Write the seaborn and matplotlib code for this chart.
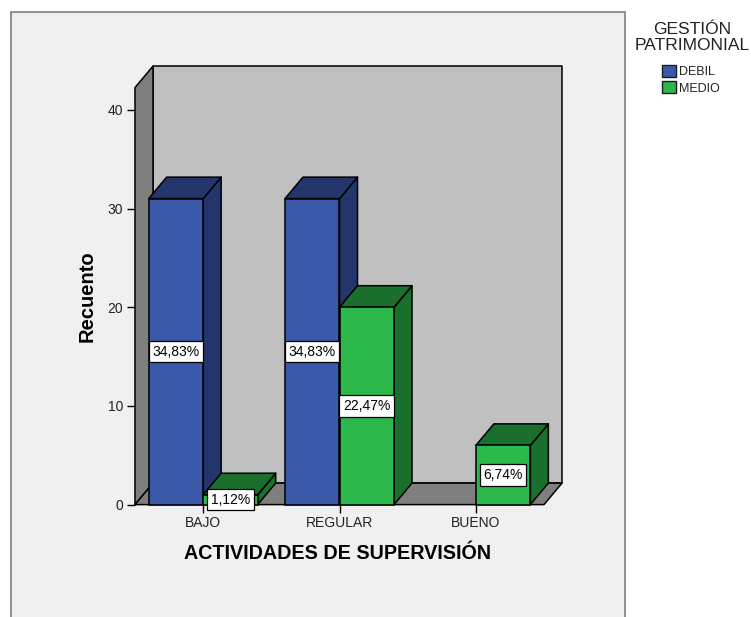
import matplotlib
matplotlib.use("Agg")
import matplotlib.pyplot as plt
from matplotlib.patches import Polygon, Rectangle, Patch
import pandas as pd
import seaborn as sns

categories = ["BAJO", "BAJO", "REGULAR", "REGULAR", "BUENO"]
series = ["DEBIL", "MEDIO", "DEBIL", "MEDIO", "MEDIO"]
counts = [31, 1, 31, 20, 6]
percent_labels = ["34,83%", "1,12%", "34,83%", "22,47%", "6,74%"]
category_order = ["BAJO", "REGULAR", "BUENO"]
series_order = ["DEBIL", "MEDIO"]
front_colors = {"DEBIL": "#3C58A8", "MEDIO": "#2DB84B"}
shade_colors = {"DEBIL": "#24356B", "MEDIO": "#1B6F2D"}

W, H = 751, 617
sns.set_style("white")
plt.rcParams["font.family"] = ["Liberation Sans", "DejaVu Sans"]

df = pd.DataFrame({"cat": categories, "ser": series, "n": counts, "lab": percent_labels})

fig = plt.figure(figsize=(W / 100, H / 100), dpi=100, facecolor="white")
fig.add_artist(Rectangle((10.5 / W, -0.02), 614.5 / W, 1.02 - 11.5 / H, transform=fig.transFigure,
                         facecolor="#F0F0F0", edgecolor="#808080", linewidth=1.2, zorder=-1))
ax = fig.add_axes([135 / W, (H - 504.6) / H, 409 / W, 417 / H])
ax.set_facecolor("none")

sns.barplot(data=df, x="cat", y="n", hue="ser", order=category_order, hue_order=series_order,
            palette=front_colors, saturation=1, width=0.8, gap=0, edgecolor="black",
            linewidth=1.1, legend=False, ax=ax, zorder=5)

ymax = 417 / 9.87
ax.set_xlim(-0.5, 2.5)
ax.set_ylim(0, ymax)
dx = 18 / 136.3
dy = 21.5 / 9.87
edge = dict(edgecolor="black", linewidth=1.1, clip_on=False, joinstyle="round")

# room: back wall, left wall, floor
ax.add_patch(Polygon([(-0.5 + dx, dy), (2.5 + dx, dy), (2.5 + dx, ymax + dy), (-0.5 + dx, ymax + dy)],
                     facecolor="#C0C0C0", zorder=1, **edge))
ax.add_patch(Polygon([(-0.5, 0), (-0.5 + dx, dy), (-0.5 + dx, ymax + dy), (-0.5, ymax)],
                     facecolor="#7F7F7F", zorder=1.1, **edge))
ax.add_patch(Polygon([(-0.5, 0), (2.5, 0), (2.5 + dx, dy), (-0.5 + dx, dy)],
                     facecolor="#7F7F7F", zorder=1.2, **edge))

# extrude every bar drawn by seaborn
bars = sorted([p for p in ax.patches if isinstance(p, Rectangle) and p.get_height() > 0],
              key=lambda p: p.get_x())
for i, bar in enumerate(bars):
    x0, w, h = bar.get_x(), bar.get_width(), bar.get_height()
    ser = "DEBIL" if bar.get_facecolor()[2] > 0.5 else "MEDIO"
    base = 2 + i * 0.1
    ax.add_patch(Polygon([(x0 + w, 0), (x0 + w + dx, dy), (x0 + w + dx, h + dy), (x0 + w, h)],
                         facecolor=shade_colors[ser], zorder=base, **edge))
    ax.add_patch(Polygon([(x0, h), (x0 + w, h), (x0 + w + dx, h + dy), (x0 + dx, h + dy)],
                         facecolor=shade_colors[ser], zorder=base, **edge))
    bar.set_zorder(base + 0.05)
    bar.set_clip_on(False)

# percentage labels in the centre of each front face
keys = sorted(zip(df["cat"].map(category_order.index), df["ser"].map(series_order.index), df["lab"]))
for bar, (_, _, lab) in zip(bars, keys):
    ax.text(bar.get_x() + bar.get_width() / 2, bar.get_height() / 2, lab, ha="center", va="center",
            fontsize=10, color="black", zorder=10, clip_on=False,
            bbox=dict(boxstyle="square,pad=0.26", facecolor="white", edgecolor="black", linewidth=0.9))

for s in ax.spines.values():
    s.set_visible(False)
ax.set_yticks([0, 10, 20, 30, 40])
ax.tick_params(axis="both", which="major", direction="out", length=6, width=1.0, color="black",
               labelsize=10, labelcolor="#222222", left=True, bottom=True, pad=2.5)
ax.set_xlabel("ACTIVIDADES DE SUPERVISIÓN", fontsize=14.2, fontweight="bold", color="black")
ax.set_ylabel("Recuento", fontsize=14.5, fontweight="bold", color="black")
ax.xaxis.set_label_coords(0.496, (505 - 554) / 417)
ax.yaxis.set_label_coords((87 - 135) / 409, (505 - 297) / 417)
ax.xaxis.label.set_va("center")
ax.yaxis.label.set_va("center")

fig.text(692 / W, 1 - 37.5 / H, "GESTIÓN\nPATRIMONIAL", ha="center", va="center", ma="center",
         fontsize=12.5, linespacing=1.12, color="#222222")
handles = [Patch(facecolor=front_colors[s], edgecolor="#1A1A2A", linewidth=1.0) for s in series_order]
leg = fig.legend(handles, series_order, loc="upper left", frameon=False,
                 bbox_to_anchor=(662 / W, 1 - 64.5 / H), fontsize=9,
                 handlelength=1.1, handleheight=1.1, handletextpad=0.25, labelspacing=0.28,
                 borderpad=0, borderaxespad=0)
for t in leg.get_texts():
    t.set_color("#222222")

fig.savefig("out.png", dpi=100)
